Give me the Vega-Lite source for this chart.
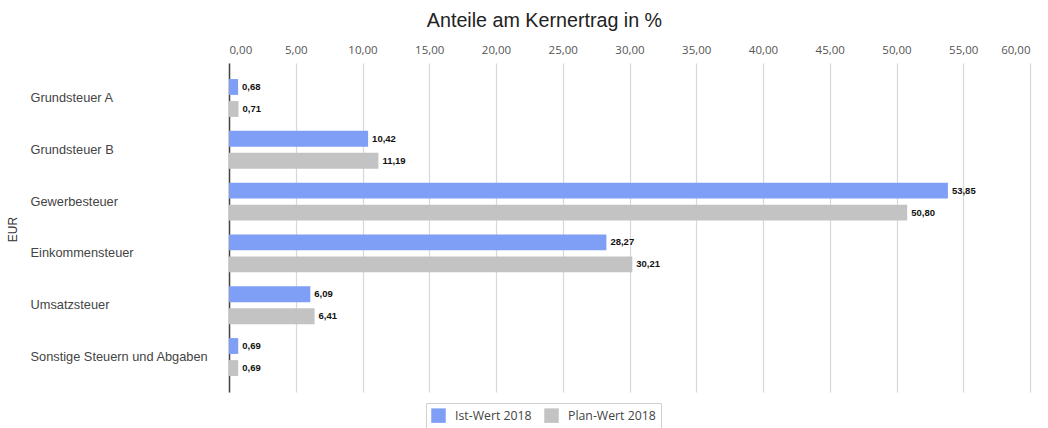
{
  "$schema": "https://vega.github.io/schema/vega-lite/v6.json",
  "width": 801,
  "height": 329,
  "autosize": {"type": "none"},
  "padding": {"left": 229, "top": 63, "right": 18, "bottom": 36},
  "config": {
    "locale": {"number": {"decimal": ",", "thousands": ".", "grouping": [3], "currency": ["", " €"]}},
    "view": {"stroke": null},
    "font": "Liberation Sans"
  },
  "title": {
    "text": "Anteile am Kernertrag in %",
    "fontSize": 19.7,
    "fontWeight": "normal",
    "color": "#222",
    "font": "Liberation Sans",
    "anchor": "middle",
    "dx": -85,
    "offset": 13
  },
  "data": {
    "values": [
      {"kategorie": "Grundsteuer A", "serie": "Ist-Wert 2018", "wert": 0.68},
      {"kategorie": "Grundsteuer A", "serie": "Plan-Wert 2018", "wert": 0.71},
      {"kategorie": "Grundsteuer B", "serie": "Ist-Wert 2018", "wert": 10.42},
      {"kategorie": "Grundsteuer B", "serie": "Plan-Wert 2018", "wert": 11.19},
      {"kategorie": "Gewerbesteuer", "serie": "Ist-Wert 2018", "wert": 53.85},
      {"kategorie": "Gewerbesteuer", "serie": "Plan-Wert 2018", "wert": 50.80},
      {"kategorie": "Einkommensteuer", "serie": "Ist-Wert 2018", "wert": 28.27},
      {"kategorie": "Einkommensteuer", "serie": "Plan-Wert 2018", "wert": 30.21},
      {"kategorie": "Umsatzsteuer", "serie": "Ist-Wert 2018", "wert": 6.09},
      {"kategorie": "Umsatzsteuer", "serie": "Plan-Wert 2018", "wert": 6.41},
      {"kategorie": "Sonstige Steuern und Abgaben", "serie": "Ist-Wert 2018", "wert": 0.69},
      {"kategorie": "Sonstige Steuern und Abgaben", "serie": "Plan-Wert 2018", "wert": 0.69}
    ]
  },
  "encoding": {
    "y": {
      "field": "kategorie",
      "type": "nominal",
      "sort": null,
      "scale": {"paddingInner": 0.27, "paddingOuter": 0.31},
      "axis": {
        "title": "EUR",
        "titleFontSize": 12,
        "titleFontWeight": "normal",
        "titleColor": "#333",
        "titleFont": "Liberation Sans",
        "titleX": -217,
        "titleY": 166,
        "titleAngle": 270,
        "titleAlign": "center",
        "titleBaseline": "middle",
        "labelAlign": "left",
        "labelPadding": 199,
        "tickSize": 0,
        "ticks": false,
        "labelFont": "Liberation Sans",
        "labelFontSize": 12.8,
        "labelColor": "#444",
        "domain": true,
        "domainColor": "#444",
        "domainWidth": 1.5
      }
    },
    "yOffset": {
      "field": "serie",
      "type": "nominal",
      "scale": {"paddingInner": 0.28, "paddingOuter": 0}
    },
    "x": {
      "field": "wert",
      "type": "quantitative",
      "scale": {"domain": [0, 60], "nice": false},
      "axis": {
        "orient": "top",
        "title": null,
        "values": [0, 5, 10, 15, 20, 25, 30, 35, 40, 45, 50, 55, 60],
        "format": ".2f",
        "labelFont": "Open Sans",
        "labelFontSize": 11.5,
        "labelColor": "#555",
        "labelPadding": 8,
        "ticks": false,
        "domain": false,
        "grid": true,
        "gridColor": "#d8d8d8",
        "gridWidth": 1.2
      }
    }
  },
  "layer": [
    {
      "mark": {"type": "bar"},
      "encoding": {
        "color": {
          "field": "serie",
          "type": "nominal",
          "scale": {"domain": ["Ist-Wert 2018", "Plan-Wert 2018"], "range": ["#7f9ef6", "#c3c3c3"]},
          "legend": {
            "title": null,
            "orient": "none",
            "legendX": 197,
            "legendY": 340,
            "direction": "horizontal",
            "symbolType": "square",
            "symbolSize": 210,
            "symbolStrokeWidth": 0,
            "labelFont": "Open Sans",
            "labelFontSize": 12.3,
            "labelColor": "#444",
            "strokeColor": "#d0d0d0",
            "padding": 5,
            "columnPadding": 12,
            "labelOffset": 9
          }
        }
      }
    },
    {
      "mark": {"type": "text", "align": "left", "baseline": "middle", "dx": 4, "fontSize": 9.5, "fontWeight": "bold", "color": "#111", "font": "Liberation Sans"},
      "encoding": {
        "text": {"field": "wert", "type": "quantitative", "format": ".2f"}
      }
    }
  ]
}
